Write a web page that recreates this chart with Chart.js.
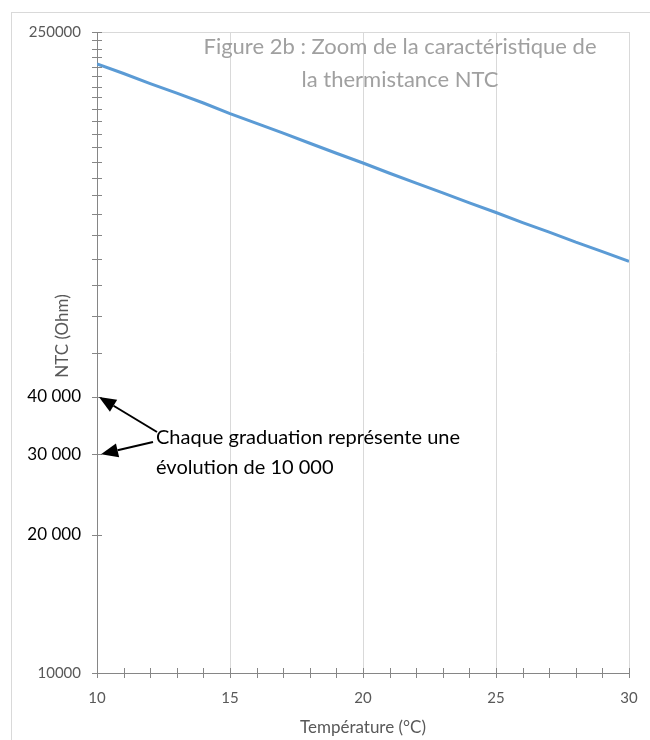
<!DOCTYPE html>
<html>
<head>
<meta charset="utf-8">
<script src="https://cdn.jsdelivr.net/npm/chart.js@4.4.1/dist/chart.umd.min.js"></script>
<style>
    html, body { margin: 0; padding: 0; background: #fff; }
    #chart { display: block; }
</style>
</head>
<body>
<canvas id="chart" width="650" height="740"></canvas>
<script>
// temperature (°C) and NTC resistance (Ohm)
const temperatures = [10, 11, 12, 13, 14, 15, 16, 17, 18, 19, 20,
    21, 22, 23, 24, 25, 26, 27, 28, 29, 30];
const resistances = [213000, 203000, 193000, 184000, 175000, 166000, 158000,
    150500, 143000, 136000, 129500, 123000, 117000, 111500, 106000, 101000,
    96000, 91500, 87000, 83000, 79000];

// one graduation every 10 000
const yTickValues = [10000, 20000, 30000, 40000, 50000, 60000, 70000, 80000,
    90000, 100000, 110000, 120000, 130000, 140000, 150000, 160000, 170000,
    180000, 190000, 200000, 210000, 220000, 230000, 240000, 250000];
const yAxisLabels = {250000: '250000', 10000: '10000'};
const yNoteLabels = {40000: '40 000', 30000: '30 000', 20000: '20 000'};

const titleLines = ['Figure 2b : Zoom de la caractéristique de', 'la thermistance NTC'];
const noteLines = ['Chaque graduation représente une', 'évolution de 10 000'];
const yTitle = 'NTC (Ohm)';

const axisGray = '#868686';

function drawArrow(ctx, x1, y1, x2, y2) {
    const a = Math.atan2(y2 - y1, x2 - x1), len = 17, w = 7;
    const bx = x2 - len * Math.cos(a), by = y2 - len * Math.sin(a);
    ctx.beginPath();
    ctx.moveTo(x1, y1);
    ctx.lineTo(bx, by);
    ctx.stroke();
    ctx.beginPath();
    ctx.moveTo(x2, y2);
    ctx.lineTo(bx + w * Math.sin(a), by - w * Math.cos(a));
    ctx.lineTo(bx - w * Math.sin(a), by + w * Math.cos(a));
    ctx.closePath();
    ctx.fill();
}

const decorations = {
    id: 'decorations',
    beforeDraw(chart) {
        const ctx = chart.ctx;
        ctx.save();
        ctx.fillStyle = '#fff';
        ctx.fillRect(0, 0, chart.width, chart.height);
        ctx.strokeStyle = '#d9d9d9';
        ctx.lineWidth = 1;
        ctx.strokeRect(11.5, 12.5, chart.width, chart.height);
        ctx.restore();
    },
    afterDraw(chart) {
        const ctx = chart.ctx, xs = chart.scales.x, ys = chart.scales.y;
        ctx.save();

        // cross tick marks
        ctx.strokeStyle = axisGray;
        ctx.lineWidth = 1;
        ctx.beginPath();
        xs.ticks.forEach(t => {
            const px = Math.round(xs.getPixelForValue(t.value)) + 0.5;
            ctx.moveTo(px, ys.bottom - 5);
            ctx.lineTo(px, ys.bottom + 5);
        });
        ys.ticks.forEach(t => {
            const py = Math.round(ys.getPixelForValue(t.value)) + 0.5;
            ctx.moveTo(xs.left - 5, py);
            ctx.lineTo(xs.left + 5, py);
        });
        ctx.stroke();

        // y axis title, sitting a little above the middle as in the figure
        ctx.save();
        ctx.translate(63, 336);
        ctx.rotate(-Math.PI / 2);
        ctx.fillStyle = '#595959';
        ctx.font = '17px Lato';
        ctx.textAlign = 'center';
        ctx.textBaseline = 'middle';
        ctx.fillText(yTitle, 0, 0);
        ctx.restore();

        // floating title
        ctx.fillStyle = '#a0a0a0';
        ctx.font = '22px Lato';
        ctx.textAlign = 'center';
        ctx.textBaseline = 'middle';
        titleLines.forEach((line, i) => ctx.fillText(line, 400, 47 + i * 33));

        // note with arrows
        ctx.fillStyle = '#000';
        ctx.font = '20px Lato';
        ctx.textAlign = 'left';
        noteLines.forEach((line, i) => ctx.fillText(line, 156, 438 + i * 30));

        ctx.strokeStyle = '#000';
        ctx.lineWidth = 2;
        const x0 = xs.getPixelForValue(temperatures[0]);
        drawArrow(ctx, 157, 432, x0 + 2, ys.getPixelForValue(40000));
        drawArrow(ctx, 153, 442, x0 + 4, ys.getPixelForValue(30000));
        ctx.restore();
    }
};

new Chart(document.getElementById('chart'), {
    type: 'line',
    data: {
        datasets: [{
            data: temperatures.map((t, i) => ({x: t, y: resistances[i]})),
            borderColor: '#5b9bd5',
            borderWidth: 3,
            pointRadius: 0,
            tension: 0,
            fill: false
        }]
    },
    options: {
        responsive: false,
        devicePixelRatio: 1,
        animation: false,
        layout: {padding: {left: 12, top: 32, right: 21, bottom: 0}},
        plugins: {
            legend: {display: false},
            tooltip: {enabled: false}
        },
        scales: {
            x: {
                type: 'linear',
                min: 10,
                max: 30,
                ticks: {
                    stepSize: 1,
                    autoSkip: false,
                    maxRotation: 0,
                    padding: 11,
                    color: '#595959',
                    font: {family: 'Lato', size: 15},
                    callback: v => v % 5 === 0 ? String(v) : ''
                },
                grid: {
                    color: c => (c.tick && c.tick.value % 5 === 0 && c.tick.value !== 10) ? '#d9d9d9' : 'transparent',
                    tickLength: 5,
                    tickColor: 'transparent'
                },
                border: {color: axisGray, width: 1},
                title: {
                    display: true,
                    text: 'Température (°C)',
                    color: '#595959',
                    font: {family: 'Lato', size: 17},
                    padding: {top: 0, bottom: 2}
                },
                afterFit: s => { s.height = 67; }
            },
            y: {
                type: 'logarithmic',
                min: 10000,
                max: 250000,
                afterBuildTicks: s => { s.ticks = yTickValues.map(v => ({value: v})); },
                ticks: {
                    autoSkip: false,
                    padding: 11,
                    callback: v => yAxisLabels[v] || yNoteLabels[v] || '',
                    color: c => (c.tick && yNoteLabels[c.tick.value]) ? '#000' : '#595959',
                    font: c => (c.tick && yNoteLabels[c.tick.value])
                        ? {family: 'Lato', size: 17}
                        : {family: 'Lato', size: 15}
                },
                grid: {
                    color: c => (c.tick && c.tick.value === 250000) ? '#d9d9d9' : 'transparent',
                    tickLength: 5,
                    tickColor: 'transparent'
                },
                border: {color: axisGray, width: 1},
                afterFit: s => { s.width = 85; }
            }
        }
    },
    plugins: [decorations]
});
</script>
</body>
</html>
